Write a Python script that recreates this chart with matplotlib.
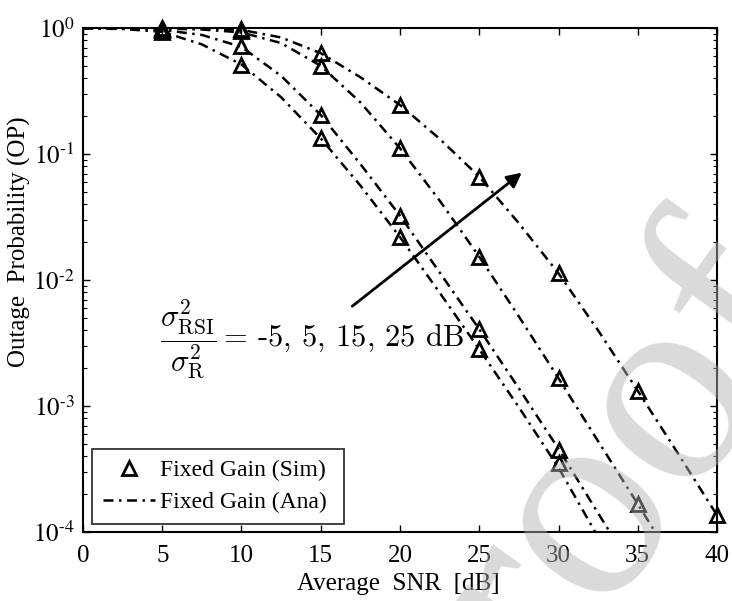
import numpy as np
import matplotlib
matplotlib.use("Agg")
import matplotlib.pyplot as plt
from matplotlib.lines import Line2D
from matplotlib.ticker import FuncFormatter

plt.rcParams['font.family'] = ['Liberation Serif', 'DejaVu Serif']
plt.rcParams['mathtext.fontset'] = 'stix'

# ---- data ----
snr_ana = [0, 2.5, 5, 7.5, 10, 12.5, 15, 17.5, 20, 22.5, 25, 27.5, 30, 32.5, 35, 37.5, 40]
ana_m5 = [0.993, 0.982, 0.933, 0.741, 0.513, 0.282, 0.133, 0.0562, 0.0219, 0.00794,
          0.00282, 9.77e-4, 3.24e-4, 9.1e-5, 2.8e-5, 9e-6, 3e-6]
ana_5 = [0.998, 0.991, 0.966, 0.881, 0.708, 0.417, 0.204, 0.0832, 0.0324, 0.01148,
         0.00407, 0.00138, 4.57e-4, 1.41e-4, 4.4e-5, 1.4e-5, 4.5e-6]
ana_15 = [0.999, 0.998, 0.991, 0.973, 0.923, 0.759, 0.501, 0.257, 0.111, 0.0427,
          0.0153, 0.00513, 0.00166, 5.25e-4, 1.67e-4, 5.2e-5, 1.65e-5]
ana_25 = [1.0, 0.999, 0.998, 0.991, 0.966, 0.841, 0.631, 0.407, 0.245, 0.132,
          0.0661, 0.0282, 0.0113, 0.00398, 0.00132, 4.27e-4, 1.36e-4]

snr_sim = [5, 10, 15, 20, 25, 30, 35, 40]
sim_m5 = [0.93, 0.51, 0.133, 0.0218, 0.00282, 3.5e-4]
sim_5 = [0.97, 0.72, 0.204, 0.0322, 0.00406, 4.5e-4]
sim_15 = [0.99, 0.95, 0.50, 0.111, 0.0153, 0.00166, 1.67e-4]
sim_25 = [1.0, 0.98, 0.63, 0.245, 0.066, 0.0113, 0.00132, 1.36e-4]

xticks = [0, 5, 10, 15, 20, 25, 30, 35, 40]
yticks = [1e-4, 1e-3, 1e-2, 1e-1, 1e0]

fig = plt.figure(figsize=(7.32, 6.01), dpi=100)
ax = fig.add_axes([83/732, 1-532/601, (717-83)/732, (532-28)/601])

dash = (0, (4, 2.2, 1, 2.2))
for ana in [ana_m5, ana_5, ana_15, ana_25]:
    ax.plot(snr_ana, ana, color='k', lw=1.8, ls=dash, zorder=2)
for sim in [sim_m5, sim_5, sim_15, sim_25]:
    ax.plot(snr_sim[:len(sim)], sim, ls='none', marker='^', ms=10.5, mfc='none',
            mec='k', mew=2, zorder=3, clip_on=False)

ax.set_yscale('log')
ax.set_xlim(0, 40)
ax.set_ylim(1e-4, 1)
ax.set_xticks(xticks)
ax.set_yticks(yticks)


def yfmt(v, pos):
    e = int(round(np.log10(v)))
    return r'$10^{\text{%d}}$' % e


ax.yaxis.set_major_formatter(FuncFormatter(yfmt))
ax.tick_params(which='both', direction='in', top=True, right=True, labelsize=18)
ax.tick_params(which='major', length=5, width=1, pad=9)
ax.tick_params(which='minor', length=3, width=0.8)
ax.tick_params(axis='y', which='major', pad=6)
for s in ax.spines.values():
    s.set_linewidth(1.5)

ax.set_xlabel('Average  SNR  [dB]', fontsize=18)
ax.xaxis.set_label_coords(0.497, -0.081)
ax.set_ylabel('Outage  Probability (OP)', fontsize=18, va='center')
ax.yaxis.set_label_coords(-0.1, 0.577)

# legend
h1 = Line2D([], [], ls='none', marker='^', ms=10.5, mfc='none', mec='k', mew=2)
h2 = Line2D([], [], color='k', lw=1.8, ls=dash)
leg = ax.legend([h1, h2], ['Fixed Gain (Sim) ', 'Fixed Gain (Ana) '], loc='lower left',
                bbox_to_anchor=(9/634, 8/504), fontsize=17, frameon=True, fancybox=False,
                edgecolor='k', handlelength=2.2, handletextpad=0.25, borderpad=0.45,
                labelspacing=0.45, borderaxespad=0)
leg.get_frame().set_linewidth(1.3)

# annotation
ax.annotate('', xy=(27.82, 0.0733), xytext=(16.85, 0.006),
            arrowprops=dict(arrowstyle='-|>', lw=2, color='k', mutation_scale=22))
ax.text(4.85, 10**-2.476,
        r'$\dfrac{\sigma^2_{\mathrm{RSI}}}{\sigma^2_{\mathrm{R}}} =\,$-5, 5, 15, 25 dB',
        fontsize=22, family='cmr10', math_fontfamily='cm', ha='left', va='center')

# watermark
fig.text(685/732, 1-500/601, 'roof', fontsize=205, rotation=54, color='#b1b1b1',
         alpha=0.48, ha='center', va='baseline', rotation_mode='anchor',
         family='Liberation Serif', zorder=10)

fig.savefig('out.png', dpi=100)
